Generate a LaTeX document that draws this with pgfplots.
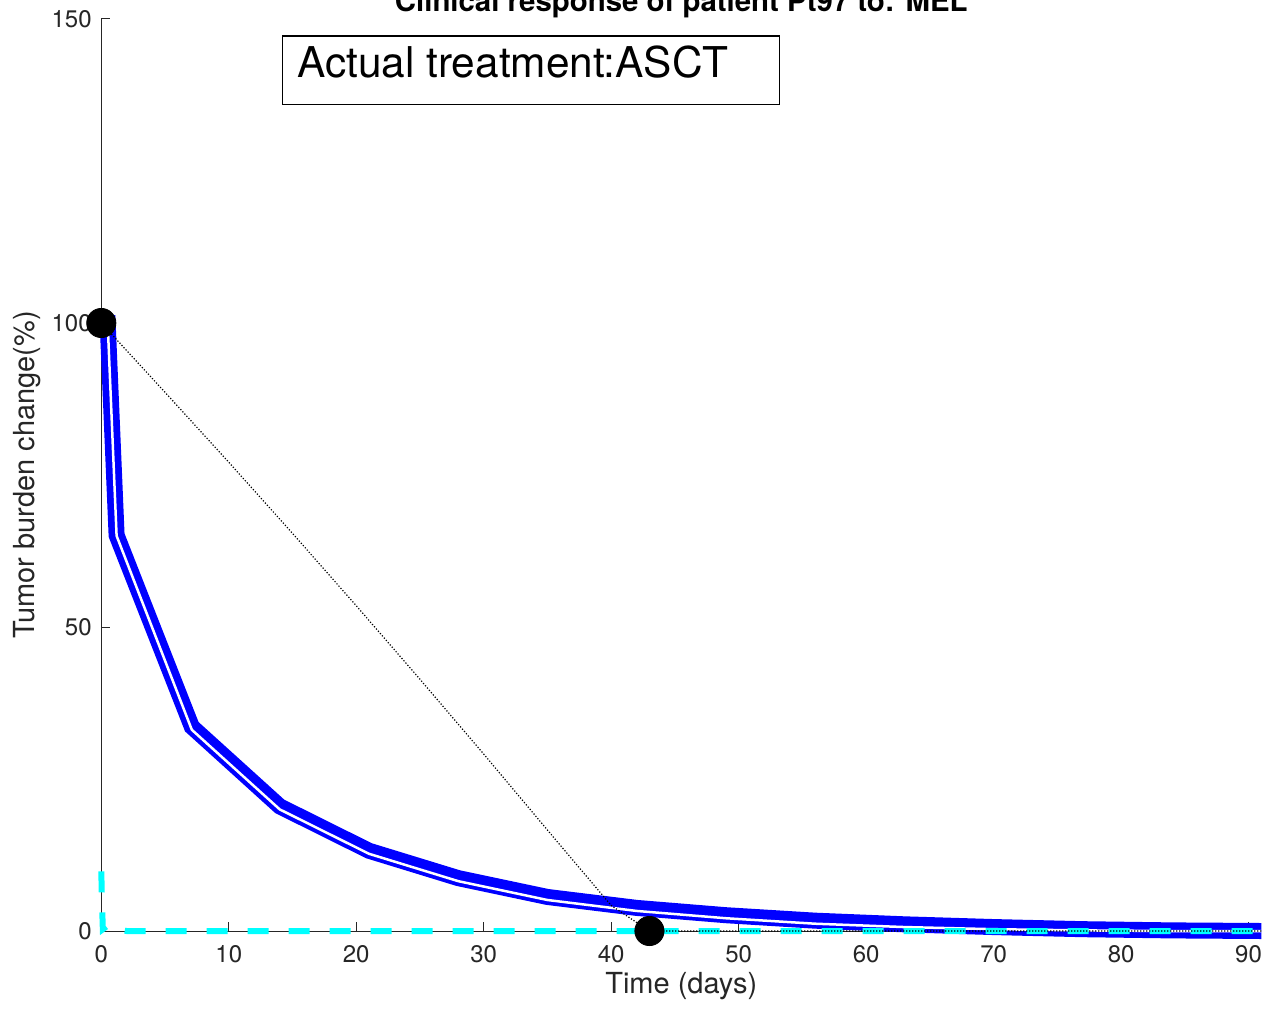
\documentclass[border=0pt]{standalone}
\usepackage{pgfplots}
\pgfplotsset{compat=1.18}
\usepackage{fontspec}
\setmainfont{TeX Gyre Heros}
\definecolor{axgray}{gray}{0.15}
\definecolor{mblue}{rgb}{0,0,1}
\definecolor{mcyan}{rgb}{0,1,1}
\begin{document}
\begin{tikzpicture}
\begin{axis}[
  scale only axis, width=580pt, height=456pt,
  at={(0pt,0pt)}, anchor=south west,
  xmin=0, xmax=91, ymin=0, ymax=150,
  axis x line*=bottom, axis y line*=left,
  xtick={0,10,...,90}, ytick={0,50,100,150},
  tick align=inside, major tick length=4.5pt,
  tick style={axgray, line width=0.5pt},
  axis line style={axgray, line width=0.5pt},
  /pgf/number format/assume math mode=true,
  ticklabel style={font=\fontsize{12}{14}\selectfont, text=axgray},
  xticklabel style={yshift=-3.5pt},
  yticklabel style={xshift=-1.3pt},
  xlabel={Time (days)}, ylabel={Tumor burden change(\%)},
  label style={font=\fontsize{14.5}{17}\selectfont, text=axgray},
  xlabel style={at={(axis description cs:0.5,-0.068)}, anchor=base},
  ylabel style={at={(axis description cs:-0.058,0.5)}, anchor=base},
  title={Clinical response of patient Pt97 to: MEL},
  every axis title shift=0pt,
  title style={at={(axis description cs:0.5,1.00768)}, anchor=base, font=\bfseries\fontsize{14.7}{17}\selectfont},
  clip=false,
]
% blue band (simulated response)
\addplot[mblue, line width=8pt, no markers] coordinates {
 (0,100) (0.5,100) (1.2,65.1) (7.1,33.6) (14,20.5) (21,13.2) (28,8.7) (35,5.6)
 (42,3.8) (49,2.6) (56,1.7) (63,1.1) (70,0.65) (77,0.3) (84,0.1) (91,0.0)};
% white inner line
\addplot[white, line width=1.25pt, no markers] coordinates {
 (0,100) (0.5,100) (1.2,65.0) (7.1,33.1) (14,20.0) (21,12.7) (28,8.2) (35,5.1)
 (42,3.3) (49,2.1) (56,1.2) (63,0.65) (70,0.3) (77,0.1) (84,0.0) (91,0.0)};
% cyan dashed
\addplot[mcyan, line width=3pt, dash pattern=on 10.5pt off 10pt, no markers] coordinates {
 (0,9.8) (0.05,5) (0.12,0.3) (0.5,0.9) (1.0,0.8) (1.5,0.2) (2,0) (91,0)};
% black dotted interpolation of observations
\addplot[black, line width=0.6pt, dash pattern=on 0.6pt off 0.9pt, no markers] coordinates {
 (0,100) (5,88.6) (10,77.1) (15,65.4) (20,53.5) (25,41.4) (30,29.1) (35,16.6) (40,4.2) (43,0) (91,0)};
% observations
\addplot[only marks, mark=*, mark size=7.3pt, black] coordinates {(0,100) (43,0)};
% annotation box
\draw[black, line width=0.6pt] (axis cs:14.24,147.2) rectangle (axis cs:53.19,136.0);
\node[anchor=base west, inner sep=0pt, font=\fontsize{21.2}{25}\selectfont] at (axis cs:15.34,140.3) {Actual treatment:ASCT};
\end{axis}
\pgfresetboundingbox
\useasboundingbox (-50.65pt,-38.5pt) rectangle (587.85pt,465.5pt);
\end{tikzpicture}
\end{document}
